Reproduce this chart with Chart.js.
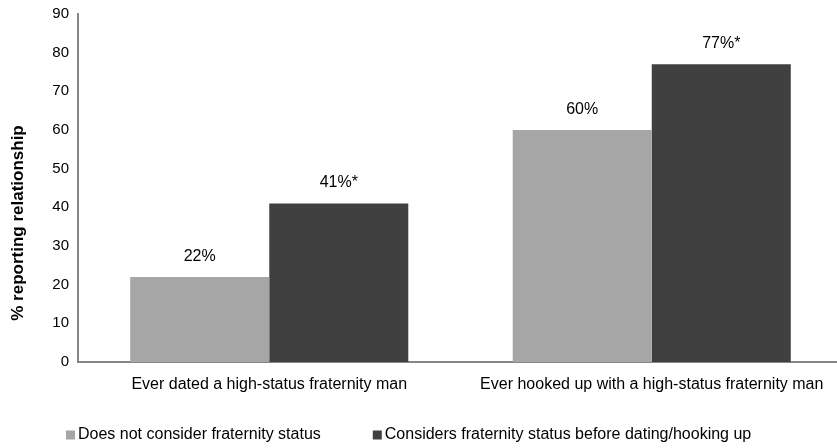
<!DOCTYPE html>
<html>
<head>
<meta charset="utf-8">
<script src="https://cdn.jsdelivr.net/npm/chart.js@4"></script>
<style>
  html, body { margin: 0; padding: 0; background: #fff; overflow: hidden; }
  #wrap { width: 837px; height: 448px; overflow: hidden; }
</style>
</head>
<body>
<div id="wrap"><canvas id="chart" width="843" height="448"></canvas></div>
<script>
// Share of women reporting each relationship type
const categories = [
  'Ever dated a high-status fraternity man',
  'Ever hooked up with a high-status fraternity man'
];
const seriesNames = [
  'Does not consider fraternity status',
  'Considers fraternity status before dating/hooking up'
];
const notConsider = [22, 60];
const considers = [41, 77];
// Asterisk marks a significant difference
const notConsiderSig = [false, false];
const considersSig = [true, true];
const yTicks = [0, 10, 20, 30, 40, 50, 60, 70, 80, 90];
const yTitle = '% reporting relationship';

const FONT = 'Liberation Sans, Arial, Helvetica, sans-serif';

// Value labels above each bar
const valueLabels = {
  id: 'valueLabels',
  afterDatasetsDraw(chart) {
    const ctx = chart.ctx;
    ctx.save();
    ctx.font = '16px ' + FONT;
    ctx.fillStyle = '#000';
    ctx.textAlign = 'center';
    ctx.textBaseline = 'middle';
    chart.data.datasets.forEach((ds, di) => {
      const meta = chart.getDatasetMeta(di);
      meta.data.forEach((bar, i) => {
        const txt = ds.data[i] + '%' + (ds.sig[i] ? '*' : '');
        ctx.fillText(txt, bar.x, bar.y - 20.5);
      });
    });
    ctx.restore();
  }
};

// Rotated y-axis title, set a little below the axis midpoint
const axisTitle = {
  id: 'axisTitle',
  afterDraw(chart) {
    const ctx = chart.ctx;
    ctx.save();
    ctx.font = 'bold 17px ' + FONT;
    ctx.fillStyle = '#000';
    ctx.textAlign = 'center';
    ctx.textBaseline = 'middle';
    ctx.translate(18, 223);
    ctx.rotate(-Math.PI / 2);
    ctx.fillText(yTitle, 0, 0);
    ctx.restore();
  }
};

// Legend row under the category labels
const legendRow = {
  id: 'legendRow',
  afterDraw(chart) {
    const ctx = chart.ctx;
    const box = 9, textGap = 3, itemGap = 52;
    let x = 66;
    const y = 435;
    ctx.save();
    ctx.font = '16px ' + FONT;
    ctx.textAlign = 'left';
    ctx.textBaseline = 'middle';
    chart.data.datasets.forEach(ds => {
      ctx.fillStyle = ds.backgroundColor;
      ctx.fillRect(x, y - box / 2, box, box);
      x += box + textGap;
      ctx.fillStyle = '#000';
      ctx.fillText(ds.label, x, y);
      x += ctx.measureText(ds.label).width + itemGap;
    });
    ctx.restore();
  }
};

new Chart(document.getElementById('chart'), {
  type: 'bar',
  data: {
    labels: categories,
    datasets: [
      { label: seriesNames[0], data: notConsider, sig: notConsiderSig,
        backgroundColor: '#A6A6A6', borderWidth: 0 },
      { label: seriesNames[1], data: considers, sig: considersSig,
        backgroundColor: '#404040', borderWidth: 0 }
    ]
  },
  options: {
    responsive: false,
    animation: false,
    layout: { padding: { top: 14, right: 0, left: 0, bottom: 0 } },
    datasets: { bar: { categoryPercentage: 0.727, barPercentage: 1.0 } },
    plugins: {
      tooltip: { enabled: false },
      legend: { display: false }
    },
    scales: {
      x: {
        grid: { display: false, drawTicks: false },
        border: { color: '#868686', width: 2 },
        ticks: { font: { family: FONT, size: 16 }, color: '#000', padding: 13 },
        afterFit(scale) { scale.height = 86; }
      },
      y: {
        min: 0,
        max: 90,
        afterBuildTicks(scale) { scale.ticks = yTicks.map(v => ({ value: v })); },
        grid: { display: false, drawTicks: true, tickLength: 4, color: '#868686' },
        border: { color: '#868686', width: 2 },
        ticks: { font: { family: FONT, size: 15 }, color: '#000', padding: 5 },
        afterFit(scale) { scale.width = 78; }
      }
    }
  },
  plugins: [valueLabels, axisTitle, legendRow]
});
</script>
</body>
</html>
